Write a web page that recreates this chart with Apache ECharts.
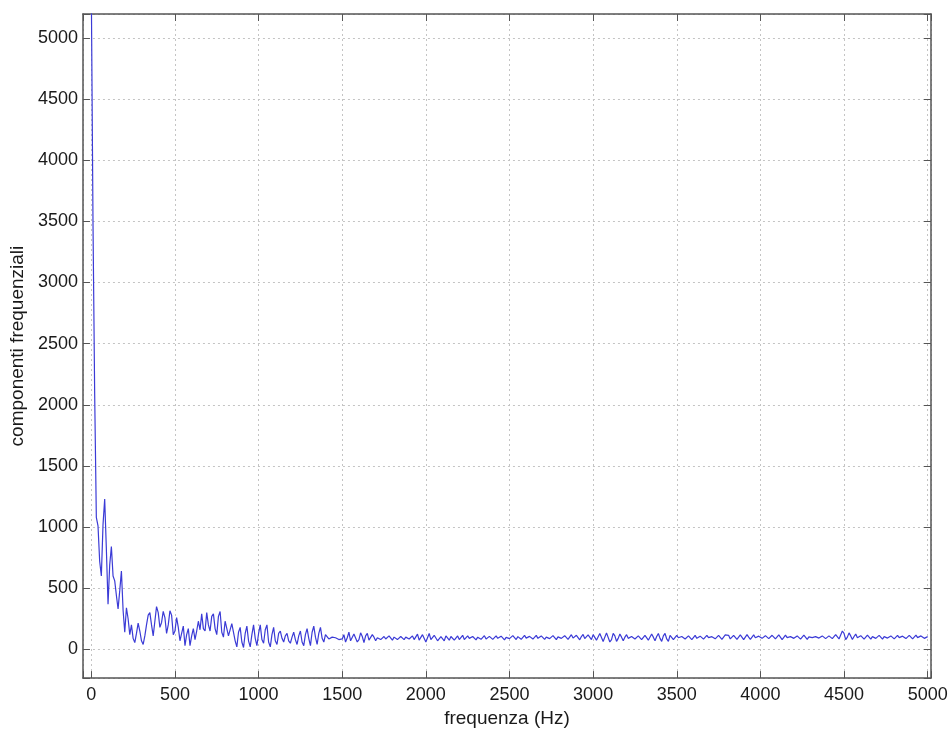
<!DOCTYPE html>
<html>
<head>
<meta charset="utf-8">
<title>Spettro</title>
<script src="https://cdn.jsdelivr.net/npm/echarts@6/dist/echarts.min.js"></script>
<style>
  html, body { margin: 0; padding: 0; background: #ffffff; }
  #chart { width: 952px; height: 733px; }
</style>
</head>
<body>
<div id="chart"></div>
<script>
// Spectrum samples, one every FREQ_STEP Hz starting at 0 Hz
const FREQ_STEP = 10;
const magnitude = [
  // 0 - 990 Hz
  5400, 3500, 2100, 1080, 1010, 720, 600, 1020, 1230, 820,
  370, 690, 840, 600, 560, 440, 330, 480, 640, 320,
  140, 340, 250, 120, 200, 90, 55, 130, 215, 150,
  70, 40, 110, 200, 280, 300, 200, 110, 230, 350,
  300, 180, 220, 310, 260, 130, 200, 315, 280, 120,
  150, 260, 180, 70, 130, 190, 30, 120, 170, 30,
  110, 170, 80, 150, 230, 160, 290, 170, 150, 300,
  200, 150, 270, 290, 170, 120, 270, 310, 140, 100,
  230, 240, 110, 95, 210, 220, 70, 20, 140, 180,
  60, 15, 130, 190, 70, 20, 120, 200, 90, 30,
  // 1000 - 1990 Hz
  130, 200, 80, 50, 160, 200, 60, 20, 120, 180,
  70, 40, 130, 150, 90, 60, 110, 130, 70, 50,
  100, 140, 80, 40, 110, 150, 60, 30, 120, 170,
  90, 30, 140, 190, 100, 40, 130, 180, 90, 60,
  120, 110, 85, 90, 100, 85, 95, 90, 80, 95,
  85, 120, 60, 95, 140, 70, 55, 125, 130, 60,
  80, 135, 105, 55, 110, 130, 75, 70, 120, 100,
  70, 95, 110, 80, 90, 105, 85, 80, 110, 95,
  75, 100, 110, 80, 85, 105, 90, 80, 100, 95,
  85, 100, 110, 80, 95, 125, 75, 70, 120, 115,
  // 2000 - 2990 Hz
  60, 95, 130, 80, 65, 115, 110, 70, 85, 105,
  90, 70, 110, 95, 75, 105, 100, 75, 90, 110,
  80, 95, 115, 80, 85, 110, 90, 80, 105, 100,
  78, 100, 108, 82, 95, 112, 85, 80, 106, 104,
  82, 92, 110, 90, 80, 108, 100, 78, 98, 112,
  88, 84, 112, 100, 80, 104, 108, 82, 92, 114,
  92, 80, 106, 110, 84, 96, 114, 90, 84, 110,
  104, 82, 100, 116, 88, 86, 112, 104, 80, 102,
  116, 90, 84, 112, 110, 82, 98, 120, 92, 84,
  115, 105, 78, 105, 122, 88, 78, 118, 125, 80,
  // 3000 - 3990 Hz
  120, 135, 75, 65, 130, 130, 65, 70, 135, 120,
  60, 80, 130, 110, 65, 90, 125, 100, 70, 100,
  120, 90, 75, 105, 115, 85, 80, 110, 110, 80,
  85, 115, 105, 75, 90, 125, 100, 70, 105, 130,
  90, 65, 110, 130, 85, 65, 115, 125, 80, 75,
  115, 95, 80, 105, 112, 85, 88, 110, 100, 80,
  96, 114, 90, 82, 108, 110, 84, 92, 115, 96,
  84, 104, 112, 86, 88, 114, 108, 82, 96, 118,
  112, 115, 85, 85, 115, 112, 82, 90, 118, 105,
  80, 95, 120, 100, 82, 100, 118, 95, 85, 108,
  // 4000 - 5000 Hz
  120, 90, 80, 112, 120, 88, 80, 115, 118, 85,
  88, 118, 104, 80, 96, 116, 96, 80, 104, 114,
  90, 84, 110, 110, 84, 92, 116, 100, 82, 102,
  116, 96, 82, 104, 118, 92, 82, 110, 116, 88,
  86, 110, 118, 88, 82, 120, 128, 85, 95, 150,
  130, 80, 100, 135, 110, 80, 105, 125, 95, 88,
  112, 108, 84, 96, 116, 100, 84, 104, 114, 90,
  92, 114, 100, 84, 104, 114, 92, 88, 110, 106,
  86, 100, 114, 96, 86, 108, 112, 88, 96, 114,
  102, 86, 102, 116, 96, 88, 110, 112, 90, 100,
  104
];

// Tick labels shown on each axis
const xTickValues = [0, 500, 1000, 1500, 2000, 2500, 3000, 3500, 4000, 4500, 5000];
const yTickValues = [0, 500, 1000, 1500, 2000, 2500, 3000, 3500, 4000, 4500, 5000];

const xRange = [-50, 5020];
const yRange = [-235, 5195];

const FONT = '"Liberation Sans", Arial, Helvetica, sans-serif';
const AXIS_COLOR = '#555555';
const GRID_COLOR = '#c4c4c4';

const points = magnitude.map((v, i) => [i * FREQ_STEP, v]);

function tickFormatter(list) {
  return function (value) {
    return list.indexOf(Math.round(value * 1000) / 1000) >= 0 ? String(value) : '';
  };
}

function baseAxis(range, ticks, extra) {
  return Object.assign({
    type: 'value',
    min: range[0],
    max: range[1],
    minInterval: 500,
    maxInterval: 500,
    splitNumber: 10,
    axisLine: { show: true, onZero: false, lineStyle: { color: AXIS_COLOR, width: 1.5 } },
    axisTick: { show: true, inside: true, length: 7, lineStyle: { color: AXIS_COLOR, width: 1 } },
    axisLabel: {
      show: true,
      formatter: tickFormatter(ticks),
      fontFamily: FONT,
      fontSize: 18,
      color: '#1a1a1a',
      showMinLabel: true,
      showMaxLabel: true,
      hideOverlap: false
    },
    splitLine: { show: false }
  }, extra);
}

const chart = echarts.init(document.getElementById('chart'), null, { renderer: 'canvas' });

chart.setOption({
  animation: false,
  backgroundColor: '#ffffff',
  grid: { left: 82, top: 14, right: 21, bottom: 52, containLabel: false },
  xAxis: [
    baseAxis(xRange, xTickValues, {
      position: 'bottom',
      name: 'frequenza (Hz)',
      nameLocation: 'middle',
      nameGap: 30,
      nameTextStyle: { fontFamily: FONT, fontSize: 19, color: '#1a1a1a' },
      axisLabel: {
        formatter: tickFormatter(xTickValues),
        fontFamily: FONT, fontSize: 18, color: '#1a1a1a', margin: 8,
        showMinLabel: true, showMaxLabel: true
      },
      splitLine: { show: true, lineStyle: { color: GRID_COLOR, width: 1, type: [2, 3] } }
    }),
    baseAxis(xRange, xTickValues, {
      position: 'top',
      axisLabel: { show: false }
    })
  ],
  yAxis: [
    baseAxis(yRange, yTickValues, {
      position: 'left',
      name: 'componenti frequenziali',
      nameLocation: 'middle',
      nameGap: 54,
      nameTextStyle: { fontFamily: FONT, fontSize: 19, color: '#1a1a1a' },
      axisLabel: {
        formatter: tickFormatter(yTickValues),
        fontFamily: FONT, fontSize: 18, color: '#1a1a1a', margin: 5,
        showMinLabel: true, showMaxLabel: true
      },
      splitLine: { show: true, lineStyle: { color: GRID_COLOR, width: 1, type: [2, 3] } }
    }),
    baseAxis(yRange, yTickValues, {
      position: 'right',
      axisLabel: { show: false }
    })
  ],
  series: [{
    type: 'line',
    xAxisIndex: 0,
    yAxisIndex: 0,
    data: points,
    showSymbol: false,
    symbol: 'none',
    clip: true,
    lineStyle: { color: '#3b3bd6', width: 1.2 }
  }]
});
</script>
</body>
</html>
